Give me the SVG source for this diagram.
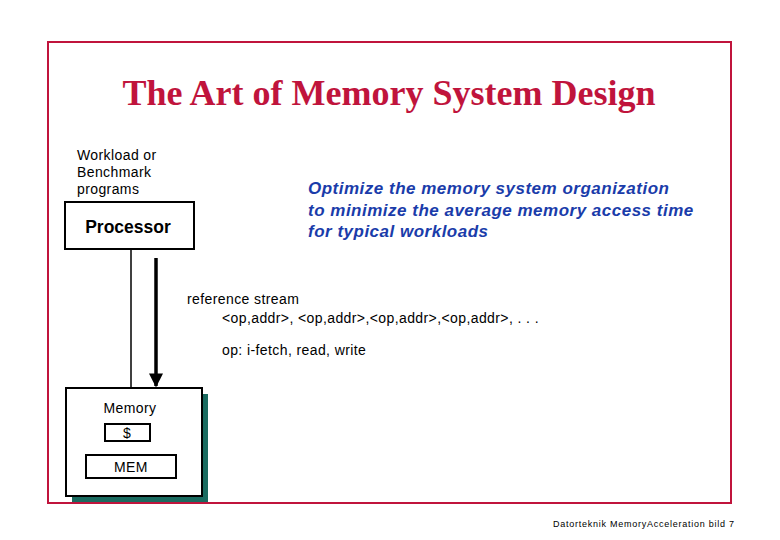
<svg xmlns="http://www.w3.org/2000/svg" width="780" height="540" viewBox="0 0 780 540">
<style>
.s{font-family:"Liberation Sans",Arial,sans-serif;fill:#000}
.t{font-size:14px;letter-spacing:0.4px}
.box{fill:#fff;stroke:#000;stroke-width:2}
.blue{font-family:"Liberation Sans",Arial,sans-serif;font-style:italic;font-weight:bold;font-size:17px;letter-spacing:0.5px;fill:#1a3caa}
</style>
<defs>
<marker id="ah" viewBox="0 0 10 10" refX="9" refY="5" markerWidth="4" markerHeight="4" orient="auto" markerUnits="strokeWidth">
<path d="M0,0 L10,5 L0,10 z" fill="#000"/>
</marker>
</defs>
<rect width="780" height="540" fill="#fff"/>
<rect x="48" y="42" width="683" height="461" fill="none" stroke="#c0143c" stroke-width="2"/>
<text x="389" y="105" text-anchor="middle" font-family="'Liberation Serif','Times New Roman',serif" font-weight="bold" font-size="36" fill="#c0143c">The Art of Memory System Design</text>
<g class="s t">
<text x="77" y="160">Workload or</text>
<text x="77" y="177">Benchmark</text>
<text x="77" y="194">programs</text>
</g>
<g id="processor">
<rect class="box" x="65" y="202" width="129" height="47"/>
<text class="s" x="128" y="233" text-anchor="middle" font-size="17.5" font-weight="bold">Processor</text>
</g>
<g id="memory">
<rect x="72" y="394" width="136" height="108" fill="#1a6b60"/>
<rect class="box" x="66" y="388" width="136" height="108"/>
<text class="s t" x="130" y="413" text-anchor="middle">Memory</text>
<g id="cache">
<rect class="box" x="105" y="424" width="45" height="17" stroke-width="1.5"/>
<text class="s t" x="127" y="438" text-anchor="middle">$</text>
</g>
<g id="mem">
<rect class="box" x="86" y="455" width="90" height="23" stroke-width="1.5"/>
<text class="s t" x="131" y="472" text-anchor="middle">MEM</text>
</g>
</g>
<g id="connectors">
<line x1="131" y1="249" x2="131" y2="388" stroke="#000" stroke-width="1.5"/>
<line x1="156" y1="258" x2="156" y2="386" stroke="#000" stroke-width="3.5" marker-end="url(#ah)"/>
</g>
<g>
<text class="blue" x="308" y="194">Optimize the memory system organization</text>
<text class="blue" x="308" y="216">to minimize the average memory access time</text>
<text class="blue" x="308" y="237">for typical workloads</text>
</g>
<g class="s t">
<text x="187" y="304">reference stream</text>
<text x="222" y="323">&lt;op,addr&gt;, &lt;op,addr&gt;,&lt;op,addr&gt;,&lt;op,addr&gt;, . . .</text>
<text x="222" y="355">op: i-fetch, read, write</text>
</g>
<text class="s" x="553" y="527" font-size="9" letter-spacing="0.75">Datorteknik MemoryAcceleration bild 7</text>
</svg>
